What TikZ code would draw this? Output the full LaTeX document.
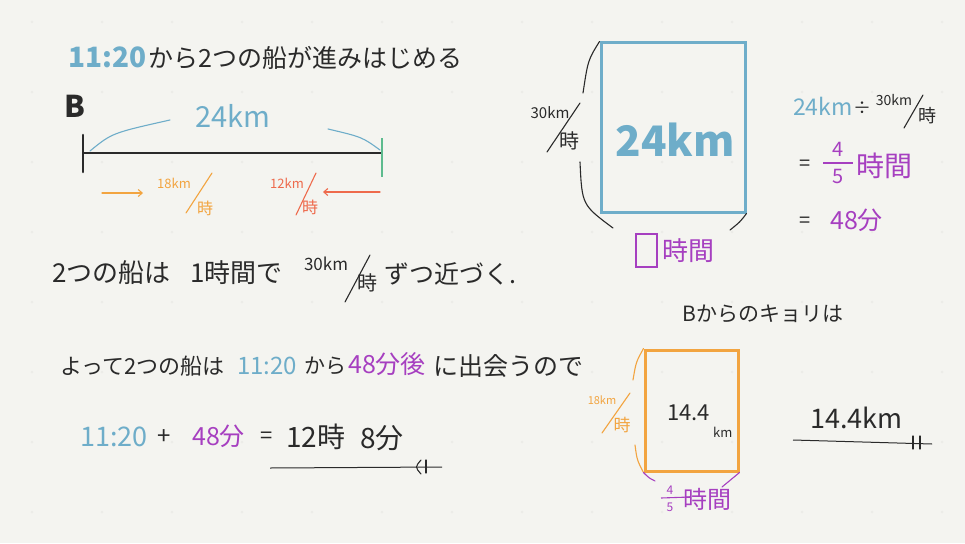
\documentclass[tikz,border=0pt]{standalone}
\usepackage{fontspec}
\setmainfont{Noto Sans CJK JP}
\usetikzlibrary{arrows.meta}
\definecolor{bg}{HTML}{F4F4F0}
\definecolor{ink}{HTML}{2A2A2A}
\definecolor{cblue}{HTML}{6EADC9}
\definecolor{corange}{HTML}{F2A440}
\definecolor{cred}{HTML}{EE6A4C}
\definecolor{cpurple}{HTML}{A63FC0}
\definecolor{cgreen}{HTML}{5DBB8E}
\definecolor{dotc}{HTML}{ECECE8}
\newcommand\fs[1]{\fontsize{#1}{#1}\selectfont}
\begin{document}
\begin{tikzpicture}[x=1pt,y=-1pt,
  txt/.style={inner sep=0pt, anchor=west, text=ink},
  ctr/.style={inner sep=0pt, text=ink},
  pen/.style={line width=1.1pt, line cap=round},
  thick pen/.style={line width=2.6pt, line cap=round},
  tip/.style={-{Straight Barb[length=4pt,width=7pt]}}]
\fill[bg] (0,0) rectangle (965,543);
\useasboundingbox (0,0) rectangle (965,543);
% faint dot grid
\foreach \i in {0,...,13} \foreach \j in {0,...,7}
  \fill[dotc] (32+70*\i,22+70*\j) circle (1.5pt);

% ---------- top left ----------
\node[txt,text=cblue,font=\fs{28}\bfseries] (t1) at (68,57) {11:20};
\node[txt,font=\fs{25}] (t2) at (148,58) {から2つの船が進みはじめる};
\node[txt,font=\fs{30}\bfseries] (B) at (64,106) {B};
\coordinate (L) at (84,153);
\coordinate (R) at (381,153);
\coordinate (Lt) at (83,135); \coordinate (Lb) at (83,172);
\coordinate (Rt) at (382,138); \coordinate (Rb) at (382,177);
\draw[ink,thick pen] (L) -- (R);
\draw[ink,thick pen] (Lt) -- (Lb);
\draw[cgreen,line width=2pt] (Rt) -- (Rb);
\coordinate (a1) at (90,151); \coordinate (a2) at (170,120);
\coordinate (a3) at (328,129); \coordinate (a4) at (380,150);
\draw[cblue,pen] (a1) .. controls (112,133) .. (a2);
\draw[cblue,pen] (a3) .. controls (362,137) .. (a4);
\node[ctr,text=cblue,font=\fs{29}] (d24) at (233,116) {24km};

% orange speed
\coordinate (oa1) at (102,193); \coordinate (oa2) at (143,193);
\draw[corange,pen,tip] (oa1) -- (oa2);
\node[ctr,text=corange,font=\fs{13}] (o18) at (174,183) {18km};
\coordinate (os1) at (186,213); \coordinate (os2) at (212,173);
\draw[corange,pen] (os1) -- (os2);
\node[ctr,text=corange,font=\fs{16}] (oj) at (205,208) {時};
% red speed
\coordinate (ra1) at (380,192); \coordinate (ra2) at (323,192);
\draw[cred,pen,tip] (ra1) -- (ra2);
\node[ctr,text=cred,font=\fs{13}] (r12) at (287,183) {12km};
\coordinate (rs1) at (296,215); \coordinate (rs2) at (316,173);
\draw[cred,pen] (rs1) -- (rs2);
\node[ctr,text=cred,font=\fs{16}] (rj) at (310,207) {時};

% ---------- line 2 ----------
\node[txt,font=\fs{26}] (l2a) at (52,273) {2つの船は};
\node[txt,font=\fs{26}] (l2b) at (190,273) {1時間で};
\node[ctr,font=\fs{17}] (l2n) at (326,264) {30km};
\coordinate (l2s1) at (370,255); \coordinate (l2s2) at (345,302);
\draw[ink,pen] (l2s1) -- (l2s2);
\node[ctr,font=\fs{20}] (l2j) at (367,283) {時};
\node[txt,font=\fs{25}] (l2c) at (384,274) {ずつ近づく.};

% ---------- line 3 ----------
\node[txt,font=\fs{22}] (l3a) at (60,366) {よって2つの船は};
\node[txt,text=cblue,font=\fs{24}] (l3b) at (237,366) {11:20};
\node[txt,font=\fs{21}] (l3c) at (304,366) {から};
\node[txt,text=cpurple,font=\fs{25}] (l3d) at (348,364) {48分後};
\node[txt,font=\fs{25}] (l3e) at (433,366) {に出会うので};

% ---------- line 4 ----------
\node[txt,text=cblue,font=\fs{27}] (l4a) at (80,437) {11:20};
\node[txt,font=\fs{24}] (l4b) at (157,437) {+};
\node[txt,text=cpurple,font=\fs{25}] (l4c) at (192,436) {48分};
\node[txt,font=\fs{22}] (l4d) at (260,438) {=};
\node[txt,font=\fs{28}] (l4e) at (286,437) {12時};
\node[txt,font=\fs{28}] (l4f) at (360,438) {8分};
\coordinate (u1) at (270,468); \coordinate (u2) at (442,467);
\draw[ink,line width=1pt] (u1) -- (u2);
\coordinate (u3) at (421,460); \coordinate (u4) at (421,474);
\draw[ink,pen] (u3) .. controls (415,467) .. (u4);
\coordinate (u5) at (426,460); \coordinate (u6) at (426,473);
\draw[ink,pen] (u5) -- (u6);

% ---------- right top: blue box ----------
\node[draw=cblue,line width=3pt,minimum width=144pt,minimum height=169pt,inner sep=0pt] (bx) at (673,127.5) {};
\node[ctr,text=cblue,font=\fs{42}\bfseries] (b24) at (675,140) {24km};
\node[ctr,font=\fs{15}] (bn) at (550,113) {30km};
\coordinate (bs1) at (580,103); \coordinate (bs2) at (547,152);
\draw[ink,pen] (bs1) -- (bs2);
\node[ctr,font=\fs{20}] (bj) at (569,141) {時};
\draw[ink,pen] (bx.north west) .. controls (588,60) .. (583,93);
\coordinate (bc1) at (580,162); \coordinate (bc2) at (613,228);
\draw[ink,pen] (bc1) .. controls (582,205) .. (bc2);
\coordinate (bc3) at (730,230);
\draw[ink,pen] (bc3) .. controls (740,222) .. (bx.south east);
\node[draw=cpurple,line width=1.5pt,minimum width=21pt,minimum height=33pt,inner sep=0pt] (sq) at (646.5,250.5) {};
\node[txt,text=cpurple,font=\fs{26}] (sqj) at (662,251) {時間};

% right column
\node[txt,text=cblue,font=\fs{23}] (c1a) at (793,106) {24km};
\node[ctr,font=\fs{18}] (c1b) at (862,108) {÷};
\node[ctr,font=\fs{14}] (c1n) at (894,100) {30km};
\coordinate (cs1) at (923,95); \coordinate (cs2) at (904,128);
\draw[ink,pen] (cs1) -- (cs2);
\node[ctr,font=\fs{18}] (c1j) at (927,116) {時};
\node[ctr,font=\fs{20}] (c2e) at (805,165) {=};
\node[ctr,text=cpurple,font=\fs{20}] (c2n) at (838,149) {4};
\coordinate (cf1) at (823,163); \coordinate (cf2) at (853,163);
\draw[cpurple,line width=1.4pt] (cf1) -- (cf2);
\node[ctr,text=cpurple,font=\fs{20}] (c2d) at (838,176) {5};
\node[txt,text=cpurple,font=\fs{28}] (c2j) at (856,166) {時間};
\node[ctr,font=\fs{20}] (c3e) at (805,222) {=};
\node[txt,text=cpurple,font=\fs{25}] (c3a) at (830,220) {48分};

% ---------- right bottom: orange box ----------
\node[txt,font=\fs{21}] (bq) at (682,314) {Bからのキョリは};
\node[draw=corange,line width=3pt,minimum width=93pt,minimum height=121pt,inner sep=0pt] (ox) at (691.5,410.5) {};
\node[txt,font=\fs{22}] (o144) at (667,413) {14.4};
\node[txt,font=\fs{13}] (okm) at (713,432) {km};
\node[ctr,text=corange,font=\fs{11}] (on) at (602,400) {18km};
\coordinate (osl1) at (630,393); \coordinate (osl2) at (602,433);
\draw[corange,pen] (osl1) -- (osl2);
\node[ctr,text=corange,font=\fs{17}] (oj2) at (622,425) {時};
\draw[corange,pen] (ox.north west) .. controls (636,362) .. (633,380);
\coordinate (oc1) at (635,445);
\draw[corange,pen] (oc1) .. controls (637,460) .. (ox.south west);
\coordinate (pc1) at (655,481); \coordinate (pc2) at (722,487);
\draw[cpurple,pen] (ox.south west) .. controls (649,478) .. (pc1);
\draw[cpurple,pen] (ox.south east) .. controls (730,480) .. (pc2);
\node[ctr,text=cpurple,font=\fs{12}] (pn) at (670,490) {4};
\coordinate (pf1) at (661,498); \coordinate (pf2) at (690,497);
\draw[cpurple,line width=1.1pt] (pf1) -- (pf2);
\node[ctr,text=cpurple,font=\fs{12}] (pd) at (670,507) {5};
\node[txt,text=cpurple,font=\fs{24}] (pj) at (683,499) {時間};

% answer
\node[txt,font=\fs{27}] (ans) at (810,418) {14.4km};
\coordinate (w1) at (793,440); \coordinate (w2) at (932,444);
\draw[ink,line width=1pt] (w1) -- (w2);
\coordinate (w3) at (913,436); \coordinate (w4) at (913,449);
\coordinate (w5) at (920,436); \coordinate (w6) at (920,449);
\draw[ink,pen] (w3) -- (w4);
\draw[ink,pen] (w5) -- (w6);
\end{tikzpicture}
\end{document}
